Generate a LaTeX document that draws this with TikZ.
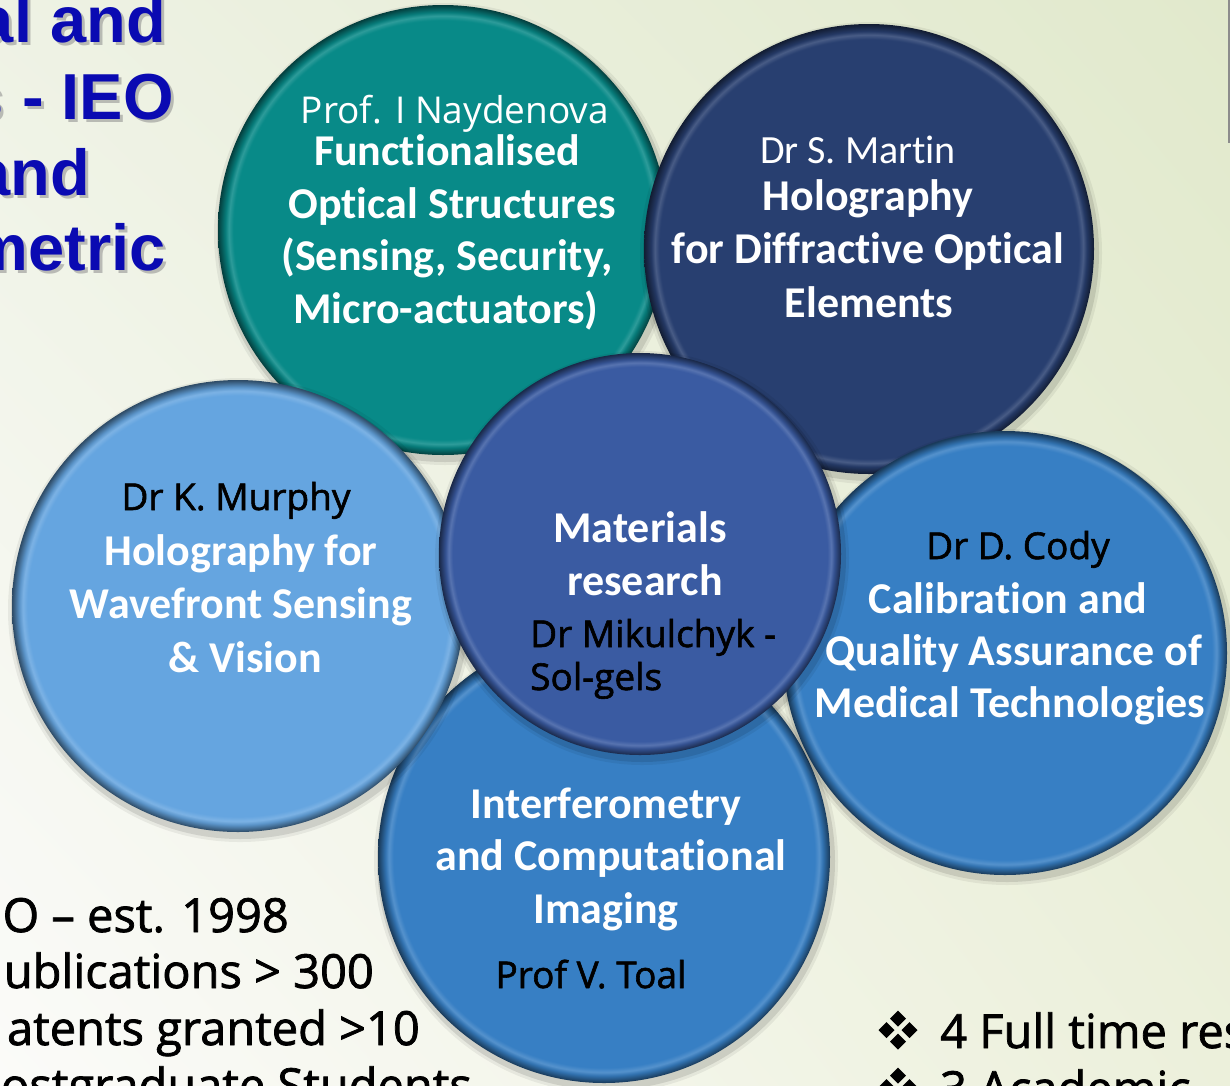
\documentclass[tikz,border=0pt]{standalone}
\usepackage{fontspec}
\usetikzlibrary{shadings}
\setmainfont{Carlito}
\newfontfamily\carl{Carlito}[Ligatures={NoCommon}]
\newfontfamily\osans{Open Sans}
\newfontfamily\osansm{Open Sans}[FakeBold=1.6]
\newfontfamily\lsans{Liberation Sans}

% disc colours
\definecolor{tealC}{HTML}{088A88}
\definecolor{navyC}{HTML}{283F70}
\definecolor{skyC}{HTML}{65A5E0}
\definecolor{midC}{HTML}{377FC4}
\definecolor{coreC}{HTML}{3A5BA2}
\definecolor{titleC}{RGB}{10,10,178}
% background corners
\definecolor{bgUL}{RGB}{238,242,228}
\definecolor{bgUR}{RGB}{225,233,204}
\definecolor{bgLL}{RGB}{251,251,249}
\definecolor{bgLR}{RGB}{236,240,219}

% flat disc with a dark bevelled rim
\newcommand\rimshade[2]{%
  \pgfdeclareradialshading{#1}{\pgfpointorigin}{%
    color(0bp)=(#2); color(23.3bp)=(#2); color(23.8bp)=(#2!85!white);
    color(24.2bp)=(#2!90!black); color(25bp)=(#2!45!black); color(50bp)=(#2!45!black)}}
\rimshade{rimTeal}{tealC}
\rimshade{rimNavy}{navyC}
\rimshade{rimSky}{skyC}
\rimshade{rimMid}{midC}
\rimshade{rimCore}{coreC}

% soft shadow + disc node
\newcommand\disc[5]{%
  \fill[black,opacity=.06] (#2+2,#3+4) circle[radius=#4+6];
  \fill[black,opacity=.10] (#2+2,#3+4) circle[radius=#4+3];
  \node[circle,inner sep=0,minimum size={2*#4pt},shade,shading=#5] (#1) at (#2,#3) {};}

\tikzset{
  hd/.style={font=\carl\bfseries\fontsize{44}{53}\selectfont, text=white, anchor=base, inner sep=0},
  who/.style={font=\osansm\fontsize{37}{44}\selectfont, text=black, anchor=base, inner sep=0},
  whow/.style={font=\osans\fontsize{37}{44}\selectfont, text=white, anchor=base, inner sep=0},
  whoc/.style={font=\carl\fontsize{40}{48}\selectfont, text=white, anchor=base, inner sep=0},
  ttl/.style={font=\lsans\bfseries\fontsize{65}{76}\selectfont, text=titleC, anchor=base east, inner sep=0},
  ttlsh/.style={ttl, text=black!45, opacity=.55},
  stat/.style={font=\osansm\fontsize{47}{57}\selectfont, text=black, anchor=base east, inner sep=0},
  bul/.style={font=\osansm\fontsize{47}{57}\selectfont, text=black, anchor=base west, inner sep=0},
}

% four-diamond bullet
\newcommand\quaddia[2]{%
  \foreach \dx/\dy in {0/-11.5,-11.5/0,11.5/0,0/11.5}{
    \fill[black] (#1+\dx,#2+\dy-8) -- (#1+\dx+8,#2+\dy) -- (#1+\dx,#2+\dy+8) -- (#1+\dx-8,#2+\dy) -- cycle;}}

\begin{document}
\begin{tikzpicture}[x=1pt,y=-1pt]
\useasboundingbox (0,0) rectangle (1230,1085);
\clip (0,0) rectangle (1230,1085);

% slide background
\shade[upper left=bgUL, upper right=bgUR, lower left=bgLL, lower right=bgLR]
  (0,0) rectangle (1230,1085);
\fill[black!45] (1227.5,0) rectangle (1230,143);

% title (left part)
\node[ttlsh] (ti1s) at (169,45) {al and};
\node[ttl]   (ti1)  at (166,42) {al and};
\node[ttlsh] (ti2s) at (177,122) {s - IEO};
\node[ttl]   (ti2)  at (174,119) {s - IEO};
\node[ttlsh] (ti3s) at (93,198) {and};
\node[ttl]   (ti3)  at (90,195) {and};
\node[ttlsh] (ti4s) at (169,273) {metric};
\node[ttl]   (ti4)  at (166,270) {metric};

% research discs
\disc{naydenova}{443}{230}{225}{rimTeal}
\disc{martin}{869}{249}{225}{rimNavy}
\disc{toal}{604}{857}{226}{rimMid}
\disc{murphy}{238}{606}{226}{rimSky}
\disc{cody}{1005}{653}{222}{rimMid}
\disc{core}{640}{554}{201}{rimCore}

% Naydenova
\node[whow] (n0) at (455,123) {Prof. I Naydenova};
\node[hd] (n1) at (447,165) {Functionalised};
\node[hd] (n2) at (452,218) {Optical Structures};
\node[hd] (n3) at (447,270) {(Sensing, Security,};
\node[hd] (n4) at (446,323) {Micro-actuators)};

% Martin
\node[whoc] (m0) at (858,163) {Dr S. Martin};
\node[hd] (m1) at (868,210) {Holography};
\node[hd] (m2) at (868,263) {for Diffractive Optical};
\node[hd] (m3) at (869,317) {Elements};

% Murphy
\node[who] (k0) at (236,510) {Dr K. Murphy};
\node[hd] (k1) at (241,565) {Holography for};
\node[hd] (k2) at (241,618) {Wavefront Sensing};
\node[hd] (k3) at (245,672) {\& Vision};

% Materials
\node[hd] (c1) at (640,542) {Materials};
\node[hd] (c2) at (645,595) {research};
\node[who,anchor=base west] (c3) at (530,647) {Dr Mikulchyk -};
\node[who,anchor=base west] (c4) at (530,690) {Sol-gels};

% Cody
\node[who] (d0) at (1018,559) {Dr D. Cody};
\node[hd] (d1) at (1008,613) {Calibration and};
\node[hd] (d2) at (1014,665) {Quality Assurance of};
\node[hd] (d3) at (1010,717) {Medical Technologies};

% Toal
\node[hd] (v1) at (606,818) {Interferometry};
\node[hd] (v2) at (611,870) {and Computational};
\node[hd] (v3) at (606,923) {Imaging};
\node[who] (v0) at (591,988) {Prof V. Toal};

% group facts
\node[stat] (s1) at (289,932) {O – est. 1998};
\node[stat] (s2) at (374,988) {ublications > 300};
\node[stat] (s3) at (420,1045) {atents granted >10};
\node[stat] (s4) at (472,1102) {ostgraduate Students};

% staff list
\quaddia{898}{1030}
\node[bul] (b1) at (940,1048) {4 Full time res};
\quaddia{898}{1087}
\node[bul] (b2) at (940,1105) {3 Academic};
\end{tikzpicture}
\end{document}
